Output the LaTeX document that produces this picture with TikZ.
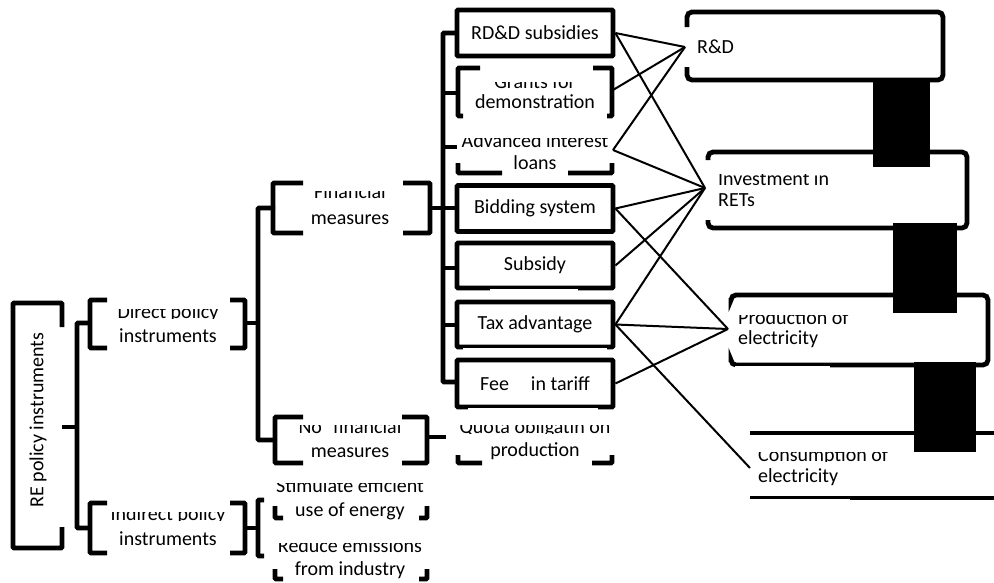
\documentclass[tikz,border=0pt]{standalone}
\usepackage{fontspec}
\setmainfont{Carlito}
\newcommand{\cutline}[6]{%
  \begin{scope}
    \clip (#3-220,#4-#5) rectangle (#3+300,#4+0.5);
    \node[txt,anchor=#2] (#1) at (#3,#4) {#6};
  \end{scope}}
\begin{document}
\begin{tikzpicture}[x=1pt,y=-1pt,
  txt/.style={font=\fontsize{20}{24}\selectfont,inner sep=0pt},
  heavy/.style={line width=4.8pt,rounded corners=1pt},
  rbox/.style={line width=4.8pt,rounded corners=5pt},
  solidbox/.style={draw,line width=4.8pt,rounded corners=1pt,minimum width=156pt,minimum height=46pt,inner sep=0pt,font=\fontsize{20}{24}\selectfont},
  link/.style={line width=2pt},
  bar/.style={fill=black}]
\useasboundingbox (0,0) rectangle (994,582);

% ---------- left column ----------
\draw[heavy] (62,327) -- (62,303) -- (13,303) -- (13,548) -- (62,548) -- (62,527);
\node[txt,rotate=90] (re) at (38,420) {RE policy instruments};
\coordinate (reE) at (62,427);
\coordinate (splitA) at (77,427);
\draw[heavy] (reE) -- (splitA);
\draw[heavy] (90,323) -- (77,323) -- (77,528) -- (90,528);

% Direct policy instruments
\draw[heavy] (107,300) -- (90,300) -- (90,348) -- (107,348);
\draw[heavy] (230,300) -- (245,300) -- (245,348) -- (230,348);
\cutline{dir1}{base}{168}{318}{9}{Direct policy}
\node[txt,anchor=base] (dir2) at (168,342) {instruments};

% Indirect policy instruments
\draw[heavy] (107,503) -- (90,503) -- (90,553) -- (107,553);
\draw[heavy] (230,503) -- (245,503) -- (245,553) -- (230,553);
\cutline{ind1}{base}{168}{520}{8}{Indirect policy}
\node[txt,anchor=base] (ind2) at (168,545) {instruments};

% from Direct to second split
\coordinate (dirE) at (245,323);
\coordinate (splitB) at (258,323);
\draw[heavy] (dirE) -- (splitB);
\draw[heavy] (275,208) -- (258,208) -- (258,440) -- (275,440);

% Financial measures
\draw[heavy] (303,183) -- (273,183) -- (273,233) -- (303,233);
\draw[heavy] (403,183) -- (430,183) -- (430,233) -- (403,233);
\cutline{fin1}{base}{350}{198}{7}{Financial}
\node[txt,anchor=base] (fin2) at (350,224) {measures};

% Non-financial measures
\draw[heavy] (303,417) -- (275,417) -- (275,463) -- (303,463);
\draw[heavy] (402,417) -- (427,417) -- (427,463) -- (402,463);
\cutline{nfin1}{base}{350}{433}{8}{No\hspace{0.55em}financial}
\node[txt,anchor=base] (nfin2) at (350,457) {measures};
\coordinate (nfinE) at (427,437);
\coordinate (quotaW) at (446,437);
\draw[heavy] (nfinE) -- (quotaW);

% Indirect branch
\coordinate (indE) at (245,528);
\coordinate (splitC) at (258,528);
\draw[heavy] (indE) -- (splitC);
\draw[heavy] (264,500) -- (258,500) -- (258,556) -- (264,556);

% Stimulate efficient use of energy
\draw[heavy] (275,506) -- (275,518) -- (283,518);
\draw[heavy] (427,506) -- (427,518) -- (419,518);
\cutline{stim1}{base}{350}{492}{9}{Stimulate efficient}
\node[txt,anchor=base] (stim2) at (350,516) {use of energy};

% Reduce emissions from industry
\draw[heavy] (275,569) -- (275,579) -- (283,579);
\draw[heavy] (427,569) -- (427,579) -- (419,579);
\cutline{red1}{base}{350}{552}{9}{Reduce emissions}
\node[txt,anchor=base] (red2) at (350,575) {from industry};

% ---------- financial instruments ----------
\coordinate (finE) at (430,208);
\coordinate (splitD) at (443,208);
\draw[heavy] (finE) -- (splitD);
\draw[heavy] (457,33) -- (443,33) -- (443,382) -- (457,382);
\foreach \yy in {93,147,208,268,325} \draw[heavy] (443,\yy) -- (457,\yy);

\node[solidbox] (rdd) at (535,33) {RD\&D subsidies};

% Grants for demonstration
\draw[heavy] (480,68) -- (458,68) -- (458,116) -- (463,116);
\draw[heavy] (593,68) -- (612,68) -- (612,116) -- (607,116);
\cutline{gr1}{base}{535}{88}{6}{Grants for}
\node[txt,anchor=base] (gr2) at (535,108) {demonstration};
\coordinate (grE) at (613,90);

% Advanced interest loans
\draw[heavy] (458,163) -- (458,173) -- (502,173);
\draw[heavy] (612,163) -- (612,173) -- (568,173);
\cutline{adv1}{base}{535}{147}{9}{Advanced interest}
\node[txt,anchor=base] (adv2) at (535,169) {loans};
\coordinate (advE) at (613,150);

\node[solidbox] (bid) at (535,208.5) {Bidding system};
\node[solidbox,minimum height=45pt] (sub) at (535,265.5) {Subsidy};
\node[solidbox,minimum height=45pt] (tax) at (535,324.5) {Tax advantage};
\node[solidbox,minimum height=47pt] (fit) at (535,383.5) {Fee\hspace{1.1em}in tariff};
\draw[white,line width=2pt] (490,289.8) -- (578,289.8);
\draw[white,line width=2pt] (463,348.8) -- (607,348.8);
\draw[white,line width=2pt] (468,408.8) -- (598,408.8);

% Quota obligation on production
\draw[heavy] (458,455) -- (458,463) -- (482,463);
\draw[heavy] (612,455) -- (612,463) -- (592,463);
\cutline{quo1}{base}{535}{433}{8}{Quota obligatin on}
\node[txt,anchor=base] (quo2) at (535,456) {production};

% ---------- right column ----------
\draw[rbox] (687,27) -- (687,12) -- (943,12) -- (943,80) -- (687,80) -- (687,67);
\node[txt,anchor=base west] (rnd) at (697,53) {R\&D};
\coordinate (rndW) at (685,47);

\draw[rbox] (708,160) -- (708,152) -- (967,152) -- (967,228) -- (708,228) -- (708,220);
\cutline{inv1}{base west}{718}{185}{11}{Investment in}
\node[txt,anchor=base west] (inv2) at (718,206) {RETs};
\coordinate (invW) at (705,188);

\draw[rbox] (731,298) -- (731,295) -- (988,295) -- (988,365) -- (731,365) -- (731,362);
\draw[white,line width=2pt] (735,366.8) -- (830,366.8);
\cutline{pro1}{base west}{738}{324}{9}{Production of}
\node[txt,anchor=base west] (pro2) at (738,344) {electricity};
\coordinate (proW) at (728,329);

\draw[line width=4.8pt] (750,433) -- (994,433);
\draw[line width=4.8pt] (750,498) -- (994,498);
\draw[white,line width=2pt] (748,499.8) -- (850,499.8);
\cutline{con1}{base west}{758}{461}{9}{Consumption of}
\node[txt,anchor=base west] (con2) at (758,482) {electricity};
\coordinate (conW) at (750,468);

% black bars
\fill[bar] (873,80) rectangle (930,167);
\fill[bar] (893,223) rectangle (957,313);
\fill[bar] (914,362) rectangle (976,452);

% ---------- connectors ----------
\draw[link] (rdd.east) -- (rndW);
\draw[link] (rdd.east) -- (invW);
\draw[link] (grE) -- (rndW);
\draw[link] (advE) -- (rndW);
\draw[link] (advE) -- (invW);
\draw[link] (bid.east) -- (invW);
\draw[link] (bid.east) -- (proW);
\draw[link] (sub.east) -- (invW);
\draw[link] (tax.east) -- (invW);
\draw[link] (tax.east) -- (proW);
\draw[link] (tax.east) -- (conW);
\draw[link] (fit.east) -- (proW);
\end{tikzpicture}
\end{document}
